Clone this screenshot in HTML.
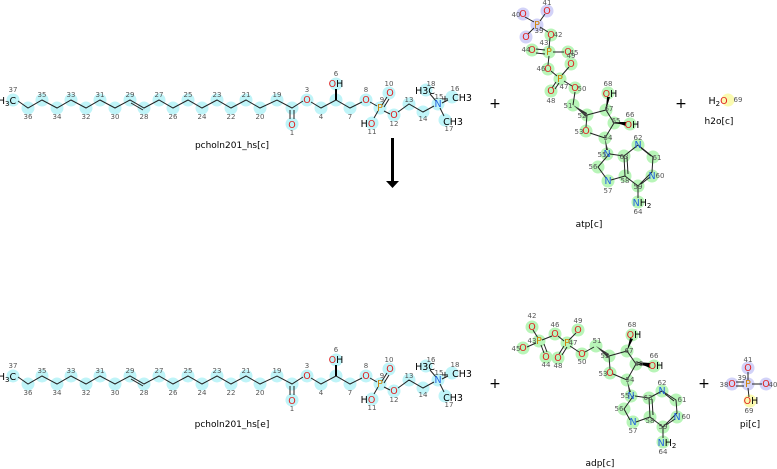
<!DOCTYPE html>
<html><head><meta charset="utf-8"><style>
html,body{margin:0;padding:0;background:#fff;}
svg{display:block;font-family:"DejaVu Sans","Liberation Sans",sans-serif;}
.n{font-size:7px;fill:#555;text-anchor:middle;}
.a{font-size:9.5px;text-anchor:middle;}
.O{fill:#e02020;}.N{fill:#2060e0;}.P{fill:#d08000;}.K{fill:#000;}
.lb{font-size:9px;fill:#000;text-anchor:middle;}
.cy{fill:#bff4f8;}.gr{fill:#b8f5b8;}.lv{fill:#d2d2f8;}.ye{fill:#fafab0;}
.b{stroke:#222;stroke-width:1;fill:none;}
.pl{font-size:14px;fill:#000;text-anchor:middle;}
</style></head><body>
<svg width="777" height="469" viewBox="0 0 777 469">
<!-- ===== TOP pcholn ===== -->
<g id="top">
<g class="cy">
<circle cx="13" cy="100" r="6.5"/><circle cx="28" cy="108" r="6.5"/><circle cx="42" cy="100" r="6.5"/><circle cx="57" cy="108" r="6.5"/><circle cx="71" cy="100" r="6.5"/><circle cx="86" cy="108" r="6.5"/><circle cx="100" cy="100" r="6.5"/><circle cx="115" cy="108" r="6.5"/><circle cx="130" cy="100" r="6.5"/><circle cx="144" cy="108" r="6.5"/><circle cx="159" cy="100" r="6.5"/><circle cx="173" cy="108" r="6.5"/><circle cx="188" cy="100" r="6.5"/><circle cx="202" cy="108" r="6.5"/><circle cx="217" cy="100" r="6.5"/><circle cx="231" cy="108" r="6.5"/><circle cx="246" cy="100" r="6.5"/><circle cx="260" cy="108" r="6.5"/><circle cx="277" cy="100" r="6.5"/><circle cx="292" cy="108" r="6.5"/><circle cx="292" cy="124" r="6.5"/><circle cx="307" cy="100" r="6.5"/><circle cx="321" cy="108" r="6.5"/><circle cx="336" cy="100" r="6.5"/><circle cx="336" cy="84" r="6.5"/><circle cx="350" cy="108" r="6.5"/><circle cx="366" cy="100" r="6.5"/><circle cx="380" cy="108" r="6.5"/><circle cx="389" cy="93" r="6.5"/><circle cx="372" cy="123" r="6.5"/><circle cx="394" cy="115" r="6.5"/><circle cx="409" cy="104" r="6.5"/><circle cx="423" cy="112" r="6.5"/><circle cx="438" cy="104" r="6.5"/><circle cx="426" cy="90" r="6.5"/><circle cx="452" cy="97" r="6.5"/><circle cx="445" cy="120" r="6.5"/>
</g>
<polyline class="b" points="18,101 28,108 42,100 57,108 71,100 86,108 100,100 115,108 130,100 144,108 159,100 173,108 188,100 202,108 217,100 231,108 246,100 260,108 277,100 292,108 303,101"/>
<line class="b" x1="131" y1="103" x2="143" y2="110"/>
<line class="b" x1="290" y1="110" x2="290" y2="119"/><line class="b" x1="294" y1="110" x2="294" y2="119"/>
<polyline class="b" points="311,102 321,108 336,100 350,108 362,102"/>
<polygon points="335,100 337,100 337,89 335,89" fill="#000"/>
<line class="b" x1="370" y1="102" x2="377" y2="106"/>
<line class="b" x1="382" y1="105" x2="387" y2="97"/><line class="b" x1="384" y1="107" x2="389" y2="99"/>
<line class="b" x1="378" y1="111" x2="374" y2="118"/><line class="b" x1="384" y1="111" x2="390" y2="114"/>
<polyline class="b" points="398,112 409,104 423,112 434,106"/>
<line class="b" x1="436" y1="101" x2="430" y2="94"/><line class="b" x1="442" y1="103" x2="448" y2="100"/><line class="b" x1="440" y1="108" x2="444" y2="116"/>
<text class="a K" x="7" y="104">H<tspan font-size="7" dy="2">3</tspan><tspan dy="-2">C</tspan></text>
<text class="a O" x="292" y="128">O</text><text class="a O" x="307" y="103">O</text>
<text class="a O" x="336" y="87">O<tspan class="K">H</tspan></text>
<text class="a O" x="366" y="103">O</text><text class="a P" x="380" y="111">P</text>
<text class="a O" x="390" y="96">O</text><text class="a K" x="368" y="127">H<tspan class="O">O</tspan></text>
<text class="a O" x="394" y="118">O</text><text class="a N" x="438" y="107">N</text>
<text class="a K" x="462" y="101">CH3</text><text class="a K" x="425" y="94">H3C</text><text class="a K" x="453" y="125">CH3</text>
<text class="a K" x="445" y="102" font-size="8">+</text>
<g class="n">
<text x="13" y="92">37</text><text x="28" y="119">36</text><text x="42" y="97">35</text><text x="57" y="119">34</text><text x="71" y="97">33</text><text x="86" y="119">32</text><text x="100" y="97">31</text><text x="115" y="119">30</text><text x="130" y="97">29</text><text x="144" y="119">28</text><text x="159" y="97">27</text><text x="173" y="119">26</text><text x="188" y="97">25</text><text x="202" y="119">24</text><text x="217" y="97">23</text><text x="231" y="119">22</text><text x="246" y="97">21</text><text x="260" y="119">20</text><text x="277" y="97">19</text><text x="292" y="135">1</text><text x="307" y="92">3</text><text x="321" y="119">4</text><text x="336" y="76">6</text><text x="350" y="119">7</text><text x="366" y="92">8</text><text x="382" y="102">9</text><text x="389" y="86">10</text><text x="372" y="134">11</text><text x="394" y="126">12</text><text x="409" y="102">13</text><text x="423" y="121">14</text><text x="439" y="99">15</text><text x="455" y="91">16</text><text x="449" y="131">17</text><text x="431" y="86">18</text>
</g>
</g>
<text class="lb" x="232" y="148">pcholn201_hs[c]</text>

<!-- ===== BOTTOM pcholn ===== -->
<g transform="translate(0,276)">
<g class="cy">
<circle cx="13" cy="100" r="6.5"/><circle cx="28" cy="108" r="6.5"/><circle cx="42" cy="100" r="6.5"/><circle cx="57" cy="108" r="6.5"/><circle cx="71" cy="100" r="6.5"/><circle cx="86" cy="108" r="6.5"/><circle cx="100" cy="100" r="6.5"/><circle cx="115" cy="108" r="6.5"/><circle cx="130" cy="100" r="6.5"/><circle cx="144" cy="108" r="6.5"/><circle cx="159" cy="100" r="6.5"/><circle cx="173" cy="108" r="6.5"/><circle cx="188" cy="100" r="6.5"/><circle cx="202" cy="108" r="6.5"/><circle cx="217" cy="100" r="6.5"/><circle cx="231" cy="108" r="6.5"/><circle cx="246" cy="100" r="6.5"/><circle cx="260" cy="108" r="6.5"/><circle cx="277" cy="100" r="6.5"/><circle cx="292" cy="108" r="6.5"/><circle cx="292" cy="124" r="6.5"/><circle cx="307" cy="100" r="6.5"/><circle cx="321" cy="108" r="6.5"/><circle cx="336" cy="100" r="6.5"/><circle cx="336" cy="84" r="6.5"/><circle cx="350" cy="108" r="6.5"/><circle cx="366" cy="100" r="6.5"/><circle cx="380" cy="108" r="6.5"/><circle cx="389" cy="93" r="6.5"/><circle cx="372" cy="123" r="6.5"/><circle cx="394" cy="115" r="6.5"/><circle cx="409" cy="104" r="6.5"/><circle cx="423" cy="112" r="6.5"/><circle cx="438" cy="104" r="6.5"/><circle cx="426" cy="90" r="6.5"/><circle cx="452" cy="97" r="6.5"/><circle cx="445" cy="120" r="6.5"/>
</g>
<polyline class="b" points="18,101 28,108 42,100 57,108 71,100 86,108 100,100 115,108 130,100 144,108 159,100 173,108 188,100 202,108 217,100 231,108 246,100 260,108 277,100 292,108 303,101"/>
<line class="b" x1="131" y1="103" x2="143" y2="110"/>
<line class="b" x1="290" y1="110" x2="290" y2="119"/><line class="b" x1="294" y1="110" x2="294" y2="119"/>
<polyline class="b" points="311,102 321,108 336,100 350,108 362,102"/>
<polygon points="335,100 337,100 337,89 335,89" fill="#000"/>
<line class="b" x1="370" y1="102" x2="377" y2="106"/>
<line class="b" x1="382" y1="105" x2="387" y2="97"/><line class="b" x1="384" y1="107" x2="389" y2="99"/>
<line class="b" x1="378" y1="111" x2="374" y2="118"/><line class="b" x1="384" y1="111" x2="390" y2="114"/>
<polyline class="b" points="398,112 409,104 423,112 434,106"/>
<line class="b" x1="436" y1="101" x2="430" y2="94"/><line class="b" x1="442" y1="103" x2="448" y2="100"/><line class="b" x1="440" y1="108" x2="444" y2="116"/>
<text class="a K" x="7" y="104">H<tspan font-size="7" dy="2">3</tspan><tspan dy="-2">C</tspan></text>
<text class="a O" x="292" y="128">O</text><text class="a O" x="307" y="103">O</text>
<text class="a O" x="336" y="87">O<tspan class="K">H</tspan></text>
<text class="a O" x="366" y="103">O</text><text class="a P" x="380" y="111">P</text>
<text class="a O" x="390" y="96">O</text><text class="a K" x="368" y="127">H<tspan class="O">O</tspan></text>
<text class="a O" x="394" y="118">O</text><text class="a N" x="438" y="107">N</text>
<text class="a K" x="462" y="101">CH3</text><text class="a K" x="425" y="94">H3C</text><text class="a K" x="453" y="125">CH3</text>
<text class="a K" x="445" y="102" font-size="8">+</text>
<g class="n">
<text x="13" y="92">37</text><text x="28" y="119">36</text><text x="42" y="97">35</text><text x="57" y="119">34</text><text x="71" y="97">33</text><text x="86" y="119">32</text><text x="100" y="97">31</text><text x="115" y="119">30</text><text x="130" y="97">29</text><text x="144" y="119">28</text><text x="159" y="97">27</text><text x="173" y="119">26</text><text x="188" y="97">25</text><text x="202" y="119">24</text><text x="217" y="97">23</text><text x="231" y="119">22</text><text x="246" y="97">21</text><text x="260" y="119">20</text><text x="277" y="97">19</text><text x="292" y="135">1</text><text x="307" y="92">3</text><text x="321" y="119">4</text><text x="336" y="76">6</text><text x="350" y="119">7</text><text x="366" y="92">8</text><text x="382" y="102">9</text><text x="389" y="86">10</text><text x="372" y="134">11</text><text x="394" y="126">12</text><text x="409" y="102">13</text><text x="423" y="121">14</text><text x="439" y="99">15</text><text x="455" y="91">18</text><text x="449" y="131">17</text><text x="431" y="86">16</text>
</g>
</g>
<text class="lb" x="232" y="427">pcholn201_hs[e]</text>

<!-- arrow -->
<rect x="391" y="138" width="3" height="43" fill="#000"/>
<polygon points="386,181 399,181 392.5,188" fill="#000"/>

<!-- plus signs -->
<text class="pl" x="495" y="108">+</text><text class="pl" x="681" y="108">+</text>
<text class="pl" x="495" y="388">+</text><text class="pl" x="704" y="388">+</text>

<!-- ===== ATP ===== -->
<g class="lv"><circle cx="523" cy="14" r="6.5"/><circle cx="547" cy="11" r="6.5"/><circle cx="537" cy="25" r="6.5"/><circle cx="526" cy="37" r="6.5"/></g>
<g class="gr">
<circle cx="551" cy="35" r="6.5"/><circle cx="549" cy="52" r="6.5"/><circle cx="532" cy="50" r="6.5"/><circle cx="568" cy="52" r="6.5"/><circle cx="548" cy="69" r="6.5"/><circle cx="560" cy="79" r="6.5"/><circle cx="571" cy="64" r="6.5"/><circle cx="551" cy="91" r="6.5"/><circle cx="575" cy="88" r="6.5"/><circle cx="573" cy="105" r="6.5"/><circle cx="587" cy="115" r="6.5"/><circle cx="606" cy="110" r="6.5"/><circle cx="614" cy="123" r="6.5"/><circle cx="630" cy="124" r="6.5"/><circle cx="608" cy="93" r="6.5"/><circle cx="586" cy="131" r="6.5"/><circle cx="605" cy="138" r="6.5"/><circle cx="607" cy="154" r="6.5"/><circle cx="598" cy="167" r="6.5"/><circle cx="608" cy="181" r="6.5"/><circle cx="625" cy="176" r="6.5"/><circle cx="624" cy="156" r="6.5"/><circle cx="638" cy="145" r="6.5"/><circle cx="653" cy="157" r="6.5"/><circle cx="652" cy="176" r="6.5"/><circle cx="638" cy="186" r="6.5"/><circle cx="638" cy="202" r="6.5"/>
</g>
<g class="b">
<line x1="525" y1="17" x2="534" y2="22"/><line x1="545" y1="14" x2="540" y2="21"/><line x1="528" y1="34" x2="534" y2="28"/><line x1="540" y1="27" x2="548" y2="32"/>
<line x1="550" y1="38" x2="549" y2="48"/><line x1="536" y1="49" x2="545" y2="50"/><line x1="536" y1="53" x2="545" y2="54"/><line x1="553" y1="52" x2="564" y2="52"/>
<line x1="549" y1="56" x2="548" y2="65"/><line x1="551" y1="71" x2="557" y2="76"/><line x1="562" y1="75" x2="569" y2="67"/><line x1="556" y1="82" x2="552" y2="88"/><line x1="559" y1="83" x2="555" y2="89"/><line x1="564" y1="81" x2="572" y2="86"/>
<line x1="575" y1="92" x2="573" y2="105"/>
<polyline points="587,115 606,110 614,123 605,138 590,133"/><line x1="587" y1="115" x2="586" y2="127"/>
<line x1="606" y1="110" x2="608" y2="97"/>
<line x1="614" y1="123" x2="625" y2="124"/>
<polyline points="610,153 598,167 606,178"/><polyline points="611,180 625,176 624,156 610,154"/>
<line x1="627" y1="157" x2="628" y2="174"/><polyline points="624,156 638,145 653,157 652,172 638,186 625,176"/>
<line x1="641" y1="148" x2="651" y2="156"/><line x1="641" y1="184" x2="650" y2="177"/>
<line x1="638" y1="186" x2="638" y2="198"/>
</g>
<polygon points="573,105 587,113 586,117" fill="#333"/>
<polygon points="605,138 606,150 608,150" fill="#333"/>
<polygon points="606,110 607,97 610,97" fill="#000"/><polygon points="614,122 626,122 626,126" fill="#000"/>
<g class="a">
<text class="O" x="523" y="17">O</text><text class="O" x="547" y="14">O</text><text class="P" x="537" y="28">P</text><text class="O" x="526" y="40">O</text><text class="O" x="551" y="38">O</text><text class="P" x="549" y="55">P</text><text class="O" x="532" y="53">O</text><text class="O" x="568" y="55">O</text><text class="O" x="548" y="72">O</text><text class="P" x="560" y="82">P</text><text class="O" x="571" y="67">O</text><text class="O" x="551" y="94">O</text><text class="O" x="575" y="91">O</text><text class="O" x="610" y="97">O<tspan class="K">H</tspan></text><text class="O" x="632" y="128">O<tspan class="K">H</tspan></text><text class="O" x="586" y="134">O</text>
<text class="N" x="607" y="157">N</text><text class="N" x="608" y="184">N</text><text class="N" x="638" y="148">N</text><text class="N" x="652" y="179">N</text><text class="N" x="642" y="206">N<tspan class="K">H<tspan font-size="7" dy="2">2</tspan></tspan></text>
</g>
<g class="n">
<text x="516" y="17">40</text><text x="547" y="5">41</text><text x="539" y="33">39</text><text x="558" y="37">42</text><text x="544" y="45">43</text><text x="526" y="52">44</text><text x="574" y="55">45</text><text x="541" y="71">46</text><text x="564" y="89">47</text><text x="551" y="103">48</text><text x="571" y="58">49</text><text x="582" y="91">50</text><text x="568" y="108">51</text><text x="582" y="118">52</text><text x="579" y="134">53</text><text x="608" y="140">54</text><text x="602" y="157">55</text><text x="593" y="169">56</text><text x="608" y="193">57</text><text x="625" y="183">58</text><text x="638" y="189">59</text><text x="660" y="178">60</text><text x="657" y="160">61</text><text x="638" y="140">62</text><text x="624" y="159">63</text><text x="638" y="214">64</text><text x="616" y="123">65</text><text x="630" y="117">66</text><text x="609" y="111">67</text><text x="608" y="86">68</text>
</g>
<text class="lb" x="589" y="227">atp[c]</text>

<!-- h2o -->
<circle cx="728" cy="100" r="6.5" class="ye"/>
<text class="a K" x="718" y="104">H<tspan font-size="7" dy="2">2</tspan><tspan dy="-2" class="O">O</tspan></text>
<text class="n" x="738" y="102">69</text>
<text class="lb" x="719" y="124">h2o[c]</text>

<!-- ===== ADP ===== -->
<g class="gr">
<circle cx="532" cy="327" r="6.5"/><circle cx="523" cy="348" r="6.5"/><circle cx="539" cy="341" r="6.5"/><circle cx="546" cy="357" r="6.5"/><circle cx="555" cy="334" r="6.5"/><circle cx="567" cy="343" r="6.5"/><circle cx="578" cy="330" r="6.5"/><circle cx="558" cy="358" r="6.5"/><circle cx="582" cy="354" r="6.5"/><circle cx="596" cy="346" r="6.5"/><circle cx="609" cy="356" r="6.5"/><circle cx="627" cy="351" r="6.5"/><circle cx="636" cy="364" r="6.5"/><circle cx="654" cy="366" r="6.5"/><circle cx="632" cy="335" r="6.5"/><circle cx="610" cy="373" r="6.5"/><circle cx="627" cy="380" r="6.5"/><circle cx="631" cy="396" r="6.5"/><circle cx="624" cy="409" r="6.5"/><circle cx="633" cy="422" r="6.5"/><circle cx="650" cy="417" r="6.5"/><circle cx="649" cy="398" r="6.5"/><circle cx="662" cy="391" r="6.5"/><circle cx="676" cy="400" r="6.5"/><circle cx="677" cy="417" r="6.5"/><circle cx="663" cy="427" r="6.5"/><circle cx="663" cy="442" r="6.5"/>
</g>
<g class="b">
<line x1="533" y1="330" x2="538" y2="338"/><line x1="527" y1="347" x2="536" y2="343"/><line x1="541" y1="345" x2="544" y2="353"/><line x1="544" y1="344" x2="547" y2="352"/><line x1="542" y1="340" x2="552" y2="336"/>
<line x1="558" y1="336" x2="564" y2="341"/><line x1="569" y1="340" x2="576" y2="333"/><line x1="564" y1="346" x2="559" y2="354"/><line x1="567" y1="347" x2="562" y2="355"/><line x1="570" y1="346" x2="579" y2="352"/><line x1="585" y1="352" x2="594" y2="347"/>
<polyline points="609,356 627,351 636,364 627,380 613,374"/><line x1="609" y1="356" x2="610" y2="369"/>
<line x1="636" y1="364" x2="650" y2="366"/>
<polyline points="634,395 624,409 630,420"/><polyline points="636,422 650,417 649,398 635,396"/>
<line x1="652" y1="399" x2="653" y2="415"/><polyline points="649,398 662,391 676,400 677,413 663,427 650,417"/>
<line x1="665" y1="394" x2="674" y2="401"/><line x1="666" y1="425" x2="675" y2="419"/>
<line x1="663" y1="427" x2="663" y2="438"/>
</g>
<polygon points="596,346 609,354 608,358" fill="#333"/>
<polygon points="627,380 629,392 631,392" fill="#333"/>
<polygon points="627,351 630,338 633,339" fill="#000"/><polygon points="636,362 650,363 650,368" fill="#000"/>
<g class="a">
<text class="O" x="532" y="330">O</text><text class="O" x="523" y="351">O</text><text class="P" x="539" y="344">P</text><text class="O" x="546" y="360">O</text><text class="O" x="555" y="337">O</text><text class="P" x="567" y="346">P</text><text class="O" x="578" y="333">O</text><text class="O" x="558" y="361">O</text><text class="O" x="582" y="357">O</text><text class="O" x="634" y="338">O<tspan class="K">H</tspan></text><text class="O" x="656" y="369">O<tspan class="K">H</tspan></text><text class="O" x="610" y="376">O</text>
<text class="N" x="631" y="399">N</text><text class="N" x="633" y="425">N</text><text class="N" x="662" y="394">N</text><text class="N" x="677" y="420">N</text><text class="N" x="667" y="446">N<tspan class="K">H<tspan font-size="7" dy="2">2</tspan></tspan></text>
</g>
<g class="n">
<text x="532" y="318">42</text><text x="516" y="351">45</text><text x="532" y="343">43</text><text x="546" y="367">44</text><text x="555" y="327">46</text><text x="573" y="345">47</text><text x="578" y="323">49</text><text x="558" y="368">48</text><text x="582" y="364">50</text><text x="597" y="343">51</text><text x="605" y="358">52</text><text x="603" y="376">53</text><text x="630" y="382">54</text><text x="625" y="398">55</text><text x="619" y="411">56</text><text x="633" y="433">57</text><text x="650" y="423">58</text><text x="663" y="429">59</text><text x="686" y="419">60</text><text x="682" y="402">61</text><text x="662" y="385">62</text><text x="648" y="400">63</text><text x="663" y="454">64</text><text x="639" y="366">65</text><text x="654" y="358">66</text><text x="629" y="353">67</text><text x="632" y="327">68</text>
</g>
<text class="lb" x="600" y="466">adp[c]</text>

<!-- ===== Pi ===== -->
<g class="lv"><circle cx="748" cy="368" r="6.5"/><circle cx="748" cy="384" r="6.5"/><circle cx="732" cy="384" r="6.5"/><circle cx="766" cy="384" r="6.5"/></g>
<circle cx="750" cy="401" r="6.5" class="ye"/>
<g class="b">
<line x1="748" y1="372" x2="748" y2="380"/><line x1="736" y1="382" x2="744" y2="382"/><line x1="736" y1="386" x2="744" y2="386"/><line x1="752" y1="384" x2="762" y2="384"/><line x1="748" y1="388" x2="749" y2="397"/>
</g>
<g class="a">
<text class="O" x="748" y="371">O</text><text class="P" x="748" y="387">P</text><text class="O" x="732" y="387">O</text><text class="O" x="766" y="387">O</text><text class="O" x="751" y="404">O<tspan class="K">H</tspan></text>
</g>
<g class="n">
<text x="748" y="362">41</text><text x="742" y="380">39</text><text x="724" y="387">38</text><text x="773" y="387">40</text><text x="749" y="413">69</text>
</g>
<text class="lb" x="750" y="427">pi[c]</text>
</svg>
</body></html>
